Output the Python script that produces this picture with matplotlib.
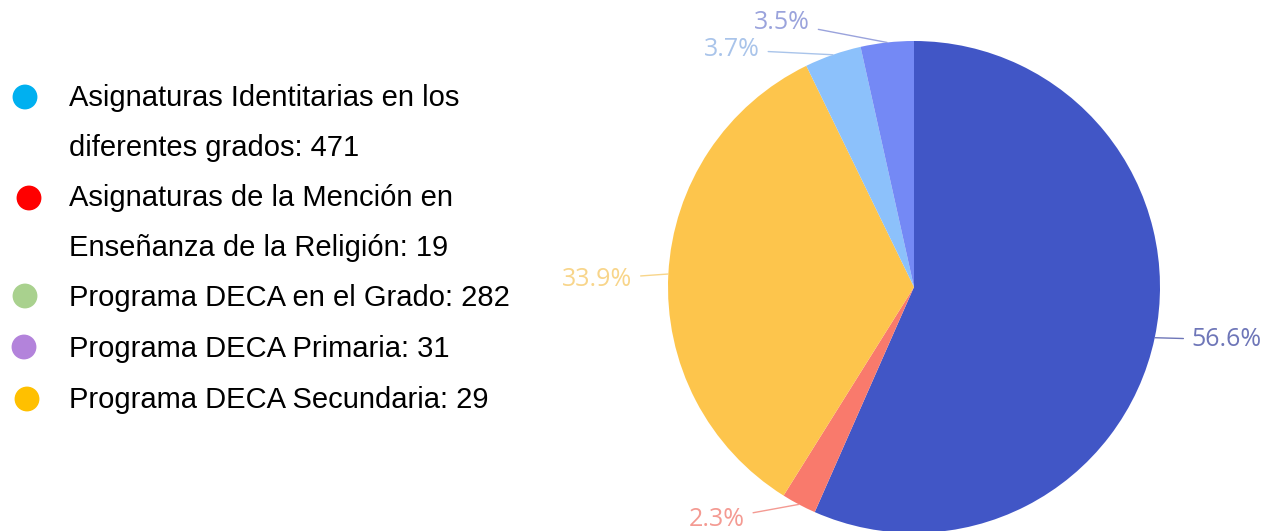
import numpy as np
import matplotlib.pyplot as plt

# data
legend_labels = [
    ["Asignaturas Identitarias en los", "diferentes grados: 471"],
    ["Asignaturas de la Mención en", "Enseñanza de la Religión: 19"],
    ["Programa DECA en el Grado: 282"],
    ["Programa DECA Primaria: 31"],
    ["Programa DECA Secundaria: 29"],
]
legend_colors = ["#00B0F0", "#FF0000", "#A9D18E", "#B383DB", "#FFC000"]
values = [471, 19, 282, 31, 29]
pie_colors = ["#4156C6", "#F97A6C", "#FDC54C", "#8CC1FB", "#7489F5"]
label_colors = ["#6E76B8", "#F49A92", "#F8D58A", "#A9C4EA", "#9AA3DC"]

W, H = 1269, 531
fig = plt.figure(figsize=(W / 100, H / 100), dpi=100)
ax = fig.add_axes([0, 0, 1, 1])

# pie (pixel coords, y up)
cx, cy, r = 914, H - 287, 246
wedges, _ = ax.pie(values, colors=pie_colors, startangle=90, counterclock=False,
                   center=(cx, cy), radius=r,
                   wedgeprops=dict(edgecolor="none", linewidth=0))

# label offsets from the wedge edge (pixels)
offsets = [(37, -2), (-54, -15), (-36, -5), (-73, 5), (-77, 20)]
total = sum(values)
for w, v, col, (dx, dy) in zip(wedges, values, label_colors, offsets):
    mid = np.deg2rad((w.theta1 + w.theta2) / 2)
    ex, ey = cx + r * np.cos(mid), cy + r * np.sin(mid)
    tx, ty = ex + dx, ey + dy
    ha = "left" if dx > 0 else "right"
    ax.annotate(f"{v / total * 100:.1f}%", xy=(ex, ey), xytext=(tx, ty),
                ha=ha, va="center", fontsize=18, color=col, family="Open Sans",
                arrowprops=dict(arrowstyle="-", color=col, lw=1, shrinkA=4, shrinkB=0))

# legend
marker_y = [97, 198, 296, 347, 399]
marker_x = [25, 29, 25, 24, 27]
line_y = [[98, 148], [198, 248], [298], [349], [400]]
for lines, c, mx, my, ly in zip(legend_labels, legend_colors, marker_x, marker_y, line_y):
    ax.scatter([mx], [H - my], s=320, color=c, edgecolors="none")
    for t, y in zip(lines, ly):
        ax.text(69, H - y, t, fontsize=21, family="Liberation Sans",
                ha="left", va="center", color="#000000")

ax.set_xlim(0, W)
ax.set_ylim(0, H)
ax.set_aspect("auto")
ax.axis("off")
fig.savefig("out.png", dpi=100)
